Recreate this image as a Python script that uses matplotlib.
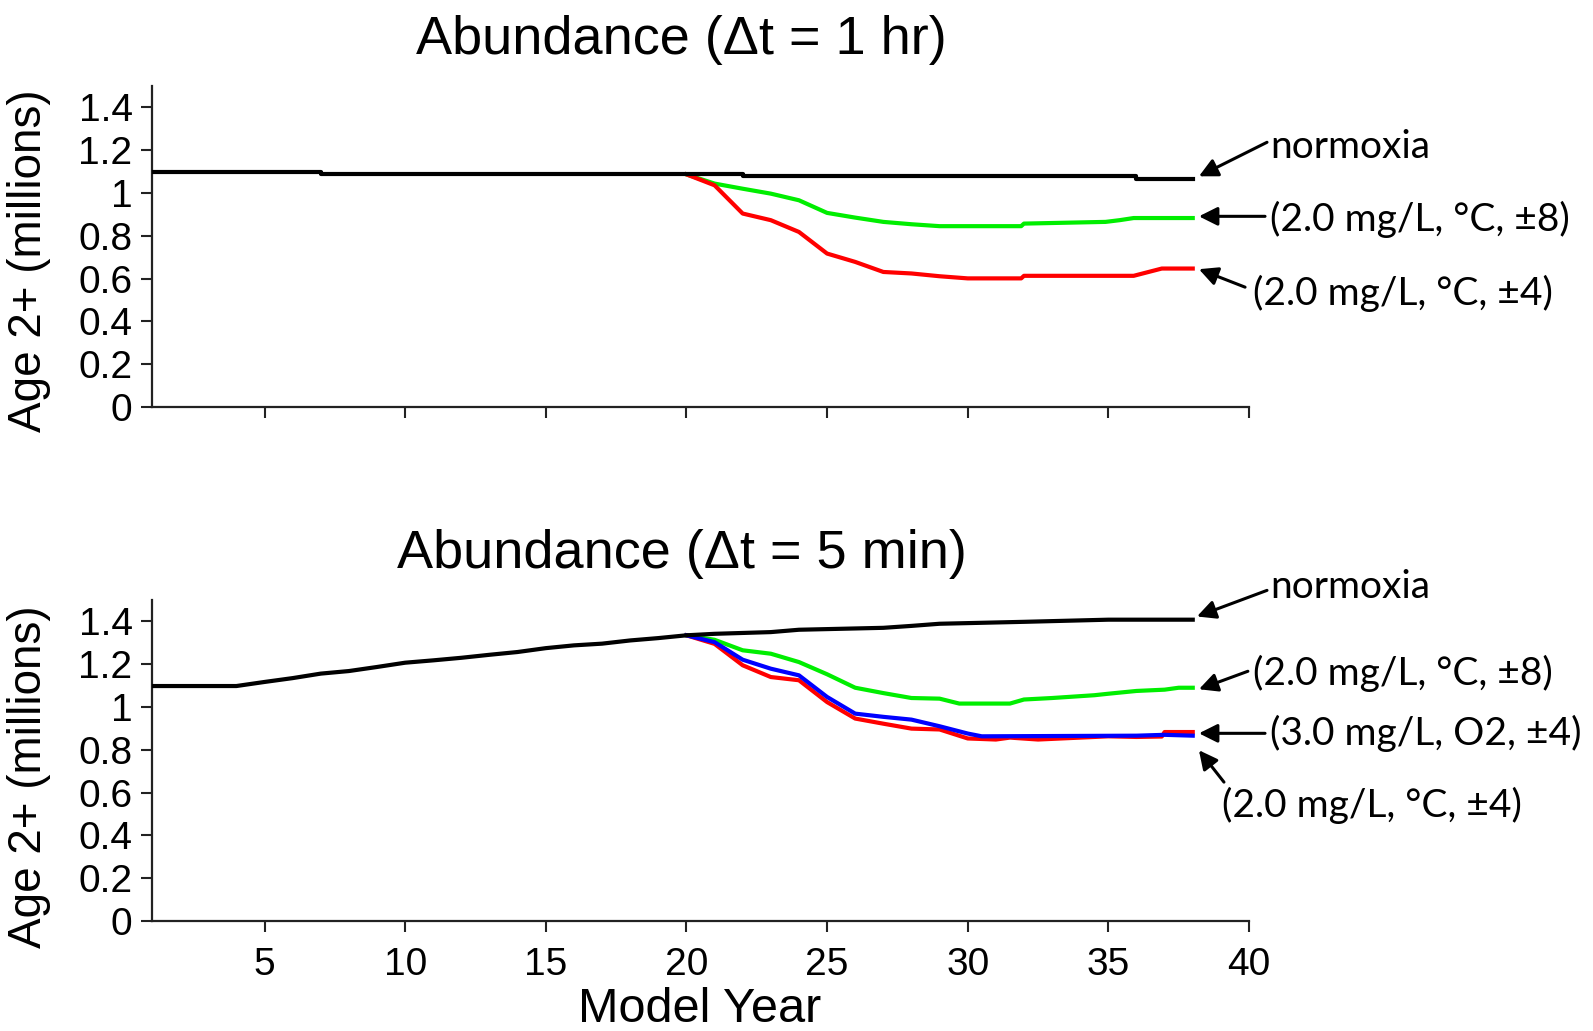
import matplotlib
matplotlib.use("Agg")
import matplotlib.pyplot as plt

# ---------------- data ----------------
# top panel (dt = 1 hr)
top_norm_x = [1, 7, 7, 22, 22, 36, 36, 38]
top_norm_y = [1.100, 1.100, 1.087, 1.087, 1.078, 1.078, 1.067, 1.067]

top_g8_x = [20, 21, 22, 23, 24, 25, 26, 27, 28, 29, 31.9, 32, 34.9, 35.4, 35.9, 38]
top_g8_y = [1.087, 1.044, 1.020, 0.997, 0.966, 0.907, 0.885, 0.865, 0.854, 0.845, 0.845,
            0.857, 0.865, 0.873, 0.883, 0.883]

top_r4_x = [20, 21, 22, 23, 24, 25, 26, 27, 28, 29, 30, 31.9, 32, 35.9, 36.4, 36.9, 38]
top_r4_y = [1.087, 1.036, 0.904, 0.873, 0.818, 0.717, 0.678, 0.631, 0.624, 0.611, 0.601,
            0.601, 0.613, 0.613, 0.630, 0.647, 0.647]

# bottom panel (dt = 5 min)
bot_norm_x = [1, 4, 5, 6, 7, 8, 9, 10, 11, 12, 13, 14, 15, 16, 17, 18, 19, 20, 21, 23, 24,
              27, 28, 29, 32, 35, 38]
bot_norm_y = [1.098, 1.098, 1.117, 1.135, 1.156, 1.168, 1.187, 1.207, 1.218, 1.230, 1.244,
              1.257, 1.275, 1.288, 1.296, 1.311, 1.322, 1.335, 1.342, 1.350, 1.361,
              1.370, 1.379, 1.389, 1.398, 1.408, 1.408]

bot_g8_x = [20, 21, 22, 23, 24, 25, 26, 27, 28, 29, 29.7, 31.5, 32, 33, 34.5, 35, 36, 37,
            37.5, 38]
bot_g8_y = [1.335, 1.314, 1.265, 1.249, 1.210, 1.153, 1.090, 1.065, 1.042, 1.039, 1.016,
            1.016, 1.035, 1.042, 1.055, 1.062, 1.075, 1.081, 1.090, 1.090]

bot_b4_x = [20, 21, 22, 23, 24, 25, 26, 27, 28, 29, 30, 30.5, 36, 37, 38]
bot_b4_y = [1.335, 1.303, 1.221, 1.179, 1.148, 1.047, 0.969, 0.954, 0.941, 0.910, 0.876,
            0.863, 0.866, 0.870, 0.866]

bot_r4_x = [20, 21, 22, 23, 24, 25, 26, 27, 28, 29, 30, 31, 31.5, 32.5, 34, 35, 36, 36.9,
            37, 38]
bot_r4_y = [1.335, 1.295, 1.195, 1.140, 1.125, 1.023, 0.946, 0.922, 0.899, 0.895, 0.853,
            0.848, 0.857, 0.848, 0.857, 0.863, 0.860, 0.862, 0.883, 0.883]

x_ticks = [5, 10, 15, 20, 25, 30, 35, 40]
y_ticks = [0, 0.2, 0.4, 0.6, 0.8, 1.0, 1.2, 1.4]
y_tick_labels = ["0", "0.2", "0.4", "0.6", "0.8", "1", "1.2", "1.4"]

titles = ["Abundance (\u0394t = 1 hr)", "Abundance (\u0394t = 5 min)"]
ylabel = "Age 2+ (millions)"
xlabel = "Model Year"

# annotation labels: (text, text_xy, arrow_tail, arrow_tip) in data coordinates
top_notes = [
    ("normoxia", (40.74, 1.213), (40.64, 1.237), (38.22, 1.078)),
    ("(2.0 mg/L, \u00b0C, \u00b18)", (40.74, 0.877), (40.57, 0.891), (38.22, 0.891)),
    ("(2.0 mg/L, \u00b0C, \u00b14)", (40.14, 0.532), (39.86, 0.560), (38.22, 0.644)),
]
bot_notes = [
    ("normoxia", (40.74, 1.559), (40.64, 1.545), (38.15, 1.423)),
    ("(2.0 mg/L, \u00b0C, \u00b18)", (40.14, 1.157), (39.96, 1.167), (38.22, 1.083)),
    ("(3.0 mg/L, O2, \u00b14)", (40.74, 0.877), (40.57, 0.877), (38.22, 0.877)),
    ("(2.0 mg/L, \u00b0C, \u00b14)", (39.04, 0.541), (39.11, 0.649), (38.22, 0.798)),
]

# ---------------- figure ----------------
plt.rcParams["font.family"] = ["Liberation Sans", "DejaVu Sans"]
W, H = 1593, 1031
fig = plt.figure(figsize=(W / 100, H / 100), dpi=100)

def make_axes(top_px, bottom_px):
    left, right = 152, 1249
    return fig.add_axes([left / W, 1 - bottom_px / H, (right - left) / W,
                         (bottom_px - top_px) / H])

ax1 = make_axes(86, 407)
ax2 = make_axes(600, 921)

lw = 3.0
ax1.plot(top_norm_x, top_norm_y, color="black", lw=lw, zorder=3)
ax1.plot(top_g8_x, top_g8_y, color="#00ee00", lw=lw, zorder=2)
ax1.plot(top_r4_x, top_r4_y, color="#ff0000", lw=lw, zorder=2)

ax2.plot(bot_norm_x, bot_norm_y, color="black", lw=lw, zorder=3)
ax2.plot(bot_g8_x, bot_g8_y, color="#00ee00", lw=lw, zorder=2)
ax2.plot(bot_r4_x, bot_r4_y, color="#ff0000", lw=lw, zorder=2)
ax2.plot(bot_b4_x, bot_b4_y, color="#0000ff", lw=lw, zorder=2)

ylabel_y = [0.455, 0.449]
for i, ax in enumerate([ax1, ax2]):
    ax.set_xlim(1, 40)
    ax.set_ylim(0, 1.5)
    for s in ["top", "right"]:
        ax.spines[s].set_visible(False)
    for s in ["left", "bottom"]:
        ax.spines[s].set_linewidth(1.6)
        ax.spines[s].set_color("#222222")
    ax.set_xticks(x_ticks)
    ax.set_yticks(y_ticks)
    ax.set_yticklabels(y_tick_labels)
    ax.tick_params(axis="both", direction="out", length=8, width=1.5,
                   color="#222222", labelsize=28)
    ax.tick_params(axis="y", pad=6)
    ax.tick_params(axis="x", pad=11)
    ax.set_ylabel(ylabel, fontsize=33)
    ax.yaxis.set_label_coords(-0.092, ylabel_y[i])
    ax.set_title(titles[i], fontsize=39, pad=23, x=0.483)

ax1.tick_params(axis="x", labelbottom=False)
ax2.set_xlabel(xlabel, fontsize=35)
ax2.xaxis.set_label_coords(0.499, -0.205)

def notes(ax, items):
    for txt, txy, tail, tip in items:
        ax.annotate("", xy=tip, xytext=tail, xycoords="data", textcoords="data",
                    annotation_clip=False,
                    arrowprops=dict(arrowstyle="-|>", color="black", lw=2.2,
                                    mutation_scale=28, shrinkA=0, shrinkB=0))
        ax.text(txy[0], txy[1], txt, fontsize=28, family=["Lato", "DejaVu Sans"],
                ha="left", va="center", clip_on=False)

notes(ax1, top_notes)
notes(ax2, bot_notes)

fig.savefig("out.png", dpi=100, facecolor="white")
